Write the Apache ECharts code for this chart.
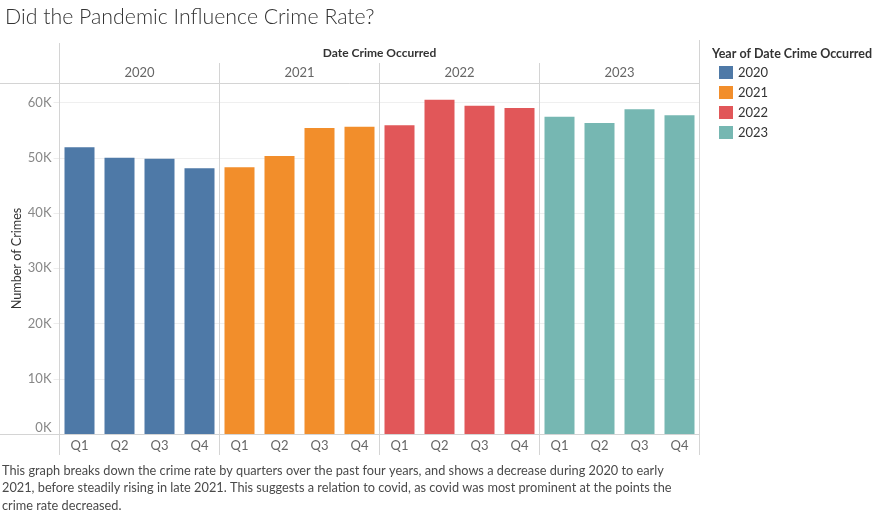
<!DOCTYPE html>
<html>
<head>
<meta charset="utf-8">
<script src="https://cdn.jsdelivr.net/npm/echarts@6/dist/echarts.min.js"></script>
<style>html,body{margin:0;padding:0;background:#fff;}#chart{width:875px;height:515px;}</style>
</head>
<body>
<div id="chart"></div>
<script>
const years = ['2020', '2021', '2022', '2023'];
const quarters = ['Q1', 'Q2', 'Q3', 'Q4'];
const crimes2020 = [51900, 50000, 49800, 48100];
const crimes2021 = [48300, 50300, 55400, 55600];
const crimes2022 = [55900, 60500, 59400, 59000];
const crimes2023 = [57400, 56300, 58800, 57700];
const yTicks = [0, 10000, 20000, 30000, 40000, 50000, 60000];
const colors = ['#4e79a7', '#f28e2b', '#e15759', '#76b7b2'];
const seriesValues = [crimes2020, crimes2021, crimes2022, crimes2023];

const FONT = 'Lato';
const chart = echarts.init(document.getElementById('chart'), null, {renderer: 'canvas'});

const grids = [], xAxes = [], yAxes = [], series = [];
years.forEach((y, i) => {
  grids.push({left: 59.5 + 160 * i, top: 83, width: 160, height: 351});
  xAxes.push({
    type: 'category', gridIndex: i, data: quarters, position: 'bottom',
    axisLine: {show: false}, axisTick: {show: false},
    axisLabel: {margin: 5, fontSize: 13, color: '#666', fontFamily: FONT}
  });
  yAxes.push({
    type: 'value', gridIndex: i, min: 0, max: 63530, interval: 10000,
    axisLine: {show: false},
    axisTick: {show: i === 0, length: 6, lineStyle: {color: '#ececec'}},
    axisLabel: {show: i === 0, margin: 8, fontSize: 13, color: '#888', fontFamily: FONT,
      verticalAlignMinLabel: 'bottom',
      formatter: v => (yTicks.indexOf(v) >= 0 ? (v / 1000) + 'K' : '')},
    splitLine: {show: true, lineStyle: {color: '#efefef', width: 1}},
    name: i === 0 ? 'Number of Crimes' : '',
    nameLocation: 'middle', nameRotate: 90, nameGap: 35,
    nameTextStyle: {fontSize: 12.6, color: '#333', fontFamily: FONT}
  });
  series.push({
    type: 'bar', name: y, xAxisIndex: i, yAxisIndex: i,
    data: seriesValues[i], barWidth: 30,
    itemStyle: {color: colors[i]}, emphasis: {disabled: true}
  });
});
years.forEach((y, i) => {
  xAxes.push({
    type: 'category', gridIndex: i, data: [y], position: 'top',
    axisLine: {show: false}, axisTick: {show: false}, splitLine: {show: false},
    axisLabel: {margin: 4, fontSize: 13, color: '#666', fontFamily: FONT}
  });
});

const lc = '#d4d4d4';
function vline(x, y1, y2) { return {type: 'line', silent: true, shape: {x1: x, y1: y1, x2: x, y2: y2}, style: {stroke: lc, lineWidth: 1}, z: 10}; }
function hline(y, x1, x2) { return {type: 'line', silent: true, shape: {x1: x1, y1: y, x2: x2, y2: y}, style: {stroke: lc, lineWidth: 1}, z: 10}; }

const footnote = 'This graph breaks down the crime rate by quarters over the past four years, and shows a decrease during 2020 to early\n' +
  '2021, before steadily rising in late 2021. This suggests a relation to covid, as covid was most prominent at the points the\n' +
  'crime rate decreased.';

chart.setOption({
  animation: false,
  color: colors,
  grid: grids,
  xAxis: xAxes,
  yAxis: yAxes,
  series: series,
  legend: {
    data: years, orient: 'vertical', left: 714, top: 60,
    icon: 'rect', itemWidth: 14, itemHeight: 13, itemGap: 5,
    textStyle: {fontSize: 13, color: '#333', fontFamily: FONT, lineHeight: 15},
    selectedMode: false
  },
  graphic: [
    {type: 'text', left: 5, top: 7, style: {text: 'Did the Pandemic Influence Crime Rate?', fontSize: 21.3, fontWeight: 300, fill: '#333', fontFamily: FONT}},
    {type: 'text', x: 379.5, y: 53, style: {text: 'Date Crime Occurred', fontSize: 12, fontWeight: 'bold', fill: '#333', fontFamily: FONT, align: 'center', verticalAlign: 'middle'}},
    {type: 'text', x: 712, y: 54, style: {text: 'Year of Date Crime Occurred', fontSize: 12.5, fontWeight: 'bold', fill: '#333', fontFamily: FONT, verticalAlign: 'middle'}},
    {type: 'text', x: 2, y: 462, style: {text: footnote, fontSize: 12.75, lineHeight: 17.5, fill: '#4a4a4a', fontFamily: FONT}},
    vline(59.5, 43, 455),
    vline(219.5, 63, 455),
    vline(379.5, 63, 455),
    vline(539.5, 63, 455),
    vline(699.5, 40, 455),
    hline(83.5, 0, 699.5),
    hline(434.5, 0, 699.5)
  ]
});
</script>
</body>
</html>
